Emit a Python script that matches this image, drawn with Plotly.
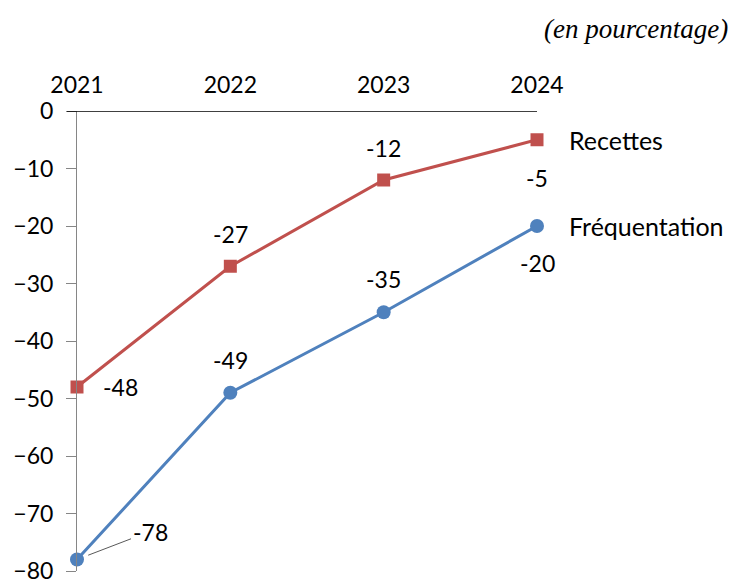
import plotly.graph_objects as go

years = ["2021", "2022", "2023", "2024"]
recettes = [-48, -27, -12, -5]
frequentation = [-78, -49, -35, -20]

RED = "#C0504D"
BLUE = "#4F81BD"
FONT = "Lato"
LABEL_FONT = dict(family=FONT, size=23, color="black")
NAME_FONT = dict(family=FONT, size=25, color="black")

idx = list(range(len(years)))

fig = go.Figure()
fig.add_trace(go.Scatter(
    x=idx, y=recettes, mode="lines+markers", name="Recettes",
    line=dict(color=RED, width=3),
    marker=dict(symbol="square", size=13, color=RED),
    cliponaxis=False,
))
fig.add_trace(go.Scatter(
    x=idx, y=frequentation, mode="lines+markers", name="Fréquentation",
    line=dict(color=BLUE, width=3),
    marker=dict(symbol="circle", size=14, color=BLUE),
    cliponaxis=False,
))

# Data labels: (xshift, yshift) per point
rec_off = [(43, 0), (0, 32), (0, 32), (0, -38)]
fre_off = [None, (0, 33), (0, 33), (0, -37)]
annotations = []
for i, v, off in zip(idx, recettes, rec_off):
    annotations.append(dict(x=i, y=v, text=str(v), showarrow=False,
                            xshift=off[0], yshift=off[1], font=LABEL_FONT))
for i, v, off in zip(idx, frequentation, fre_off):
    if off is None:
        # label pulled away from the point with a thin leader line
        annotations.append(dict(x=i, y=v, text=str(v), showarrow=True,
                                arrowhead=0, arrowwidth=1, arrowcolor="#595959",
                                ax=73, ay=-28, standoff=12, font=LABEL_FONT))
    else:
        annotations.append(dict(x=i, y=v, text=str(v), showarrow=False,
                                xshift=off[0], yshift=off[1], font=LABEL_FONT))

# Series names at the end of each line
annotations.append(dict(x=idx[-1], y=recettes[-1], text="Recettes", showarrow=False,
                        xanchor="left", xshift=30, font=NAME_FONT))
annotations.append(dict(x=idx[-1], y=frequentation[-1], text="Fréquentation", showarrow=False,
                        xanchor="left", xshift=30, font=NAME_FONT))

# Unit note, top right
annotations.append(dict(x=1.0, y=1.0, xref="paper", yref="paper",
                        text="<i>(en pourcentage)</i>", showarrow=False,
                        xanchor="right", yanchor="middle", xshift=193, yshift=82,
                        font=dict(family="Liberation Serif", size=27, color="black")))

fig.update_layout(
    width=734, height=581,
    margin=dict(l=77, r=197, t=111, b=10),
    paper_bgcolor="white", plot_bgcolor="white",
    showlegend=False,
    annotations=annotations,
    xaxis=dict(
        side="top", range=[0, 3],
        tickmode="array", tickvals=idx, ticktext=years,
        showgrid=False, zeroline=False,
        showline=False, ticks="",
        tickfont=LABEL_FONT,
        ticklabelstandoff=12,
        automargin=False,
    ),
    yaxis=dict(
        range=[-80, 0], dtick=10, tick0=0,
        showgrid=False, zeroline=False,
        showline=True, linecolor="#868686", linewidth=1,
        ticks="outside", ticklen=10, tickcolor="#868686",
        tickfont=LABEL_FONT,
        ticklabelstandoff=8,
        ticklabeloverflow="allow",
        automargin=False,
    ),
)

# Horizontal axis line at zero across the top
fig.add_shape(type="line", xref="paper", yref="y", x0=-10 / 460, x1=1, y0=0, y1=0,
              line=dict(color="black", width=1.5))

fig.write_html("out.html")
